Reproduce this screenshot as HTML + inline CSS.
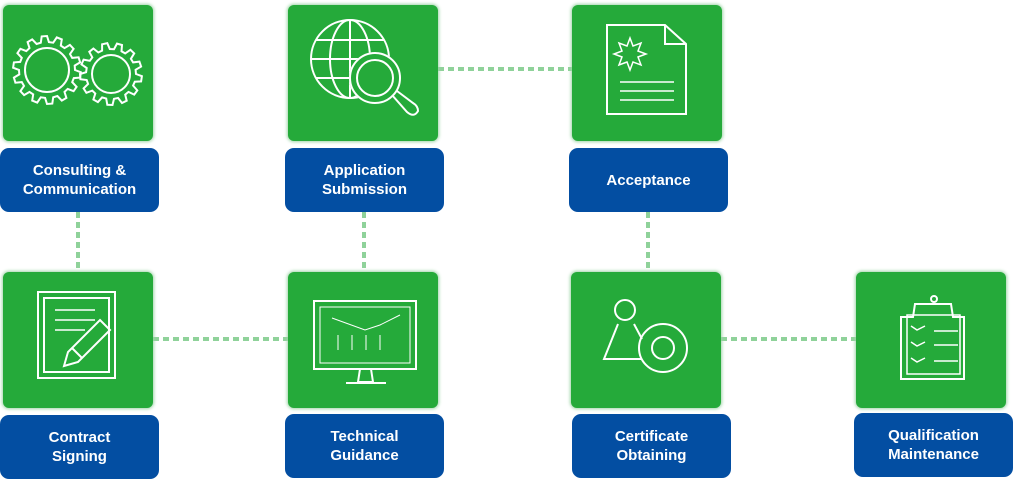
<!DOCTYPE html>
<html><head><meta charset="utf-8"><style>
body{margin:0;width:1016px;height:480px;background:#fff;position:relative;overflow:hidden;font-family:"Liberation Sans",sans-serif}
.t{position:absolute;width:150px;height:136px;background:#25aa3a;border-radius:6px;box-shadow:0 0 3px 1px #9fd5a8}
.l{position:absolute;width:159px;height:64px;background:#034ea2;border-radius:9px;color:#fff;font-weight:bold;font-size:15px;line-height:19px;display:flex;align-items:center;justify-content:center;text-align:center}
svg{position:absolute;left:0;top:0}
</style></head><body>
<svg width="1016" height="480" style="z-index:0">
<g stroke="#8fd29a" stroke-width="4" stroke-dasharray="6 4" fill="none">
<line x1="438" y1="69" x2="572" y2="69"/>
<line x1="153" y1="339" x2="288" y2="339"/>
<line x1="721" y1="339" x2="856" y2="339"/>
<line x1="78" y1="212" x2="78" y2="272"/>
<line x1="364" y1="212" x2="364" y2="272"/>
<line x1="648" y1="212" x2="648" y2="272"/>
</g></svg>
<div class="t" style="left:3px;top:5px"></div>
<div class="t" style="left:288px;top:5px"></div>
<div class="t" style="left:572px;top:5px"></div>
<div class="t" style="left:3px;top:272px"></div>
<div class="t" style="left:288px;top:272px"></div>
<div class="t" style="left:571px;top:272px"></div>
<div class="t" style="left:856px;top:272px"></div>
<div class="l" style="left:0;top:148px">Consulting &amp;<br>Communication</div>
<div class="l" style="left:285px;top:148px">Application<br>Submission</div>
<div class="l" style="left:569px;top:148px">Acceptance</div>
<div class="l" style="left:0;top:415px">Contract<br>Signing</div>
<div class="l" style="left:285px;top:414px">Technical<br>Guidance</div>
<div class="l" style="left:572px;top:414px">Certificate<br>Obtaining</div>
<div class="l" style="left:854px;top:413px">Qualification<br>Maintenance</div>
<svg width="1016" height="480" style="z-index:2">
<g stroke="#fff" stroke-width="2" fill="none">
<!-- gears -->
<circle cx="47" cy="70" r="22"/><path id="g1" d=""/>
<circle cx="111" cy="74" r="19"/><path id="g2" d=""/>
<!-- globe -->
<circle cx="350" cy="59" r="39"/><ellipse cx="350" cy="59" rx="20" ry="39"/><line x1="350" y1="20" x2="350" y2="98"/><line x1="311" y1="59" x2="389" y2="59"/><line x1="316" y1="40" x2="384" y2="40"/><line x1="316" y1="78" x2="384" y2="78"/>
<circle cx="375" cy="78" r="23" fill="#25aa3a" stroke-width="6" stroke="#25aa3a"/><circle cx="375" cy="78" r="25"/><circle cx="375" cy="78" r="18"/><path d="M392 95 L407 112 Q414 118 418 111 Q418 106 413 103 L397 91"/>
<!-- document -->
<path d="M607 25 H665 L686 44 V114 H607 Z M665 25 V44 H686"/>
<path d="M630 38 l3 8 8-3-3 8 8 3-8 3 3 8-8-3-3 8-3-8-8 3 3-8-8-3 8-3-3-8 8 3z" stroke-width="1.5"/>
<line x1="620" y1="82" x2="674" y2="82" stroke-width="1.5"/><line x1="620" y1="91" x2="674" y2="91" stroke-width="1.5"/><line x1="620" y1="100" x2="674" y2="100" stroke-width="1.5"/>
<!-- contract -->
<rect x="38" y="292" width="77" height="86"/><rect x="44" y="298" width="65" height="74"/>
<line x1="55" y1="310" x2="95" y2="310" stroke-width="1.5"/><line x1="55" y1="320" x2="95" y2="320" stroke-width="1.5"/><line x1="55" y1="330" x2="85" y2="330" stroke-width="1.5"/>
<path d="M100 320 L110 330 L78 362 L64 366 L68 352 Z M72 348 L82 358"/>
<!-- monitor -->
<rect x="314" y="301" width="102" height="68"/><rect x="320" y="307" width="90" height="56" stroke-width="1"/>
<path d="M332 318 L365 330 L380 325 L400 315" stroke-width="1"/><g stroke-width="1"><line x1="338" y1="335" x2="338" y2="350"/><line x1="352" y1="335" x2="352" y2="350"/><line x1="366" y1="335" x2="366" y2="350"/><line x1="380" y1="335" x2="380" y2="350"/></g>
<path d="M360 369 L358 382 H373 L371 369 M346 383 H386"/>
<!-- person -->
<circle cx="625" cy="310" r="10"/><path d="M618 324 L604 359 H641 M634 324 L642 339"/>
<circle cx="663" cy="348" r="24"/><circle cx="663" cy="348" r="11"/>
<!-- clipboard -->
<path d="M901 317 V379 H964 V317 H953 L951 304 H915 L913 317 Z" /><circle cx="934" cy="299" r="3"/>
<rect x="907" y="315" width="53" height="59" stroke-width="1.5"/>
<g stroke-width="1.5"><path d="M911 326 l6 4 8-4 M911 342 l6 4 8-4 M911 358 l6 4 8-4"/><line x1="934" y1="331" x2="958" y2="331"/><line x1="934" y1="345" x2="958" y2="345"/><line x1="934" y1="361" x2="958" y2="361"/></g>
</g></svg>
<script>
function gear(cx,cy,ri,ro,n){var d="",s=2*Math.PI/n;for(var i=0;i<n;i++){var a=i*s;var pts=[[ri,a],[ro,a+s*0.15],[ro,a+s*0.5],[ri,a+s*0.65]];pts.forEach(function(p,j){var x=(cx+p[0]*Math.cos(p[1])).toFixed(1),y=(cy+p[0]*Math.sin(p[1])).toFixed(1);d+=(i==0&&j==0?"M":"L")+x+" "+y+" ";});}return d+"Z";}
document.getElementById("g1").setAttribute("d",gear(47,70,28,34,14));
document.getElementById("g2").setAttribute("d",gear(111,74,25,31,13));
</script>
</body></html>
